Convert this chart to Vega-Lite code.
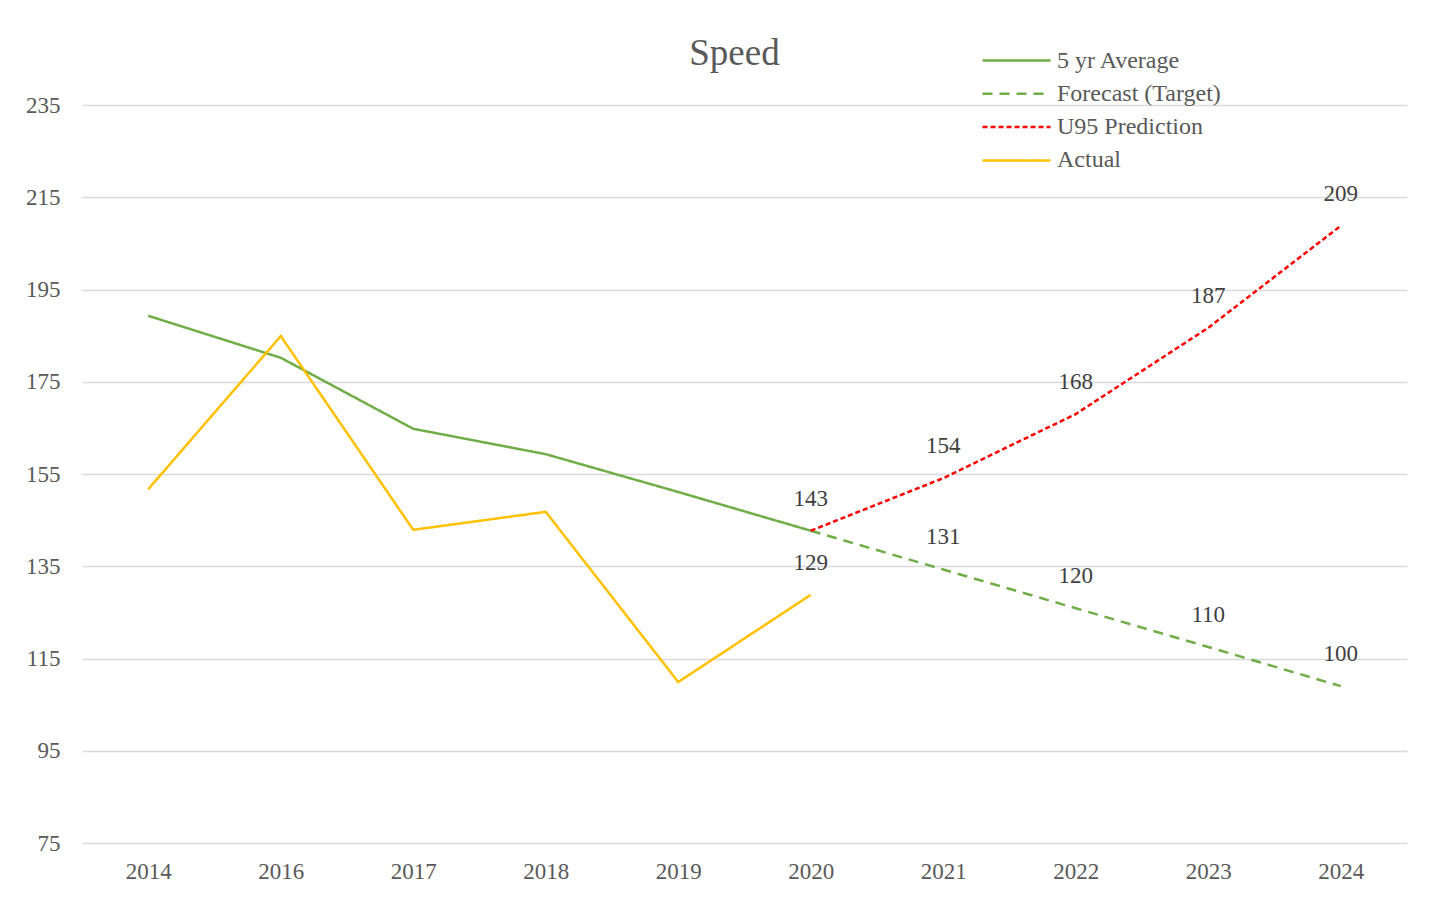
{
  "$schema": "https://vega.github.io/schema/vega-lite/v6.json",
  "width": 1325,
  "height": 738,
  "autosize": {"type": "none"},
  "padding": {"left": 82, "top": 105, "right": 31, "bottom": 54},
  "background": "white",
  "title": {
    "text": "Speed",
    "font": "Liberation Serif",
    "fontSize": 37,
    "fontWeight": "normal",
    "color": "#595959",
    "anchor": "middle",
    "baseline": "alphabetic",
    "offset": -60,
    "dx": -10
  },
  "config": {
    "view": {"stroke": null},
    "font": "Liberation Serif"
  },
  "data": {
    "values": [
      {"year": "2014", "series": "5 yr Average", "value": 189.3, "label": null},
      {"year": "2016", "series": "5 yr Average", "value": 180.2, "label": null},
      {"year": "2017", "series": "5 yr Average", "value": 164.8, "label": null},
      {"year": "2018", "series": "5 yr Average", "value": 159.3, "label": null},
      {"year": "2019", "series": "5 yr Average", "value": 151.1, "label": null},
      {"year": "2020", "series": "5 yr Average", "value": 142.7, "label": "143"},
      {"year": "2020", "series": "Forecast (Target)", "value": 142.7, "label": null},
      {"year": "2021", "series": "Forecast (Target)", "value": 134.3, "label": "131"},
      {"year": "2022", "series": "Forecast (Target)", "value": 125.9, "label": "120"},
      {"year": "2023", "series": "Forecast (Target)", "value": 117.5, "label": "110"},
      {"year": "2024", "series": "Forecast (Target)", "value": 109.0, "label": "100"},
      {"year": "2020", "series": "U95 Prediction", "value": 142.7, "label": null},
      {"year": "2021", "series": "U95 Prediction", "value": 154.1, "label": "154"},
      {"year": "2022", "series": "U95 Prediction", "value": 168.0, "label": "168"},
      {"year": "2023", "series": "U95 Prediction", "value": 186.7, "label": "187"},
      {"year": "2024", "series": "U95 Prediction", "value": 208.8, "label": "209"},
      {"year": "2014", "series": "Actual", "value": 151.7, "label": null},
      {"year": "2016", "series": "Actual", "value": 184.9, "label": null},
      {"year": "2017", "series": "Actual", "value": 142.9, "label": null},
      {"year": "2018", "series": "Actual", "value": 146.8, "label": null},
      {"year": "2019", "series": "Actual", "value": 109.9, "label": null},
      {"year": "2020", "series": "Actual", "value": 128.8, "label": "129"}
    ]
  },
  "encoding": {
    "x": {
      "field": "year",
      "type": "ordinal",
      "sort": ["2014", "2016", "2017", "2018", "2019", "2020", "2021", "2022", "2023", "2024"],
      "scale": {"type": "point", "padding": 0.5},
      "axis": {
        "title": null,
        "labelAngle": 0,
        "domain": false,
        "ticks": false,
        "grid": false,
        "labelFont": "Liberation Serif",
        "labelFontSize": 23,
        "labelColor": "#595959",
        "labelPadding": 17
      }
    },
    "y": {
      "field": "value",
      "type": "quantitative",
      "scale": {"domain": [75, 235], "nice": false, "zero": false},
      "axis": {
        "title": null,
        "values": [75, 95, 115, 135, 155, 175, 195, 215, 235],
        "domain": false,
        "ticks": false,
        "grid": true,
        "gridColor": "#D9D9D9",
        "gridWidth": 1.5,
        "labelFont": "Liberation Serif",
        "labelFontSize": 23,
        "labelColor": "#595959",
        "labelPadding": 22
      }
    }
  },
  "layer": [
    {
      "mark": {"type": "line", "strokeWidth": 2.5},
      "encoding": {
        "color": {
          "field": "series",
          "type": "nominal",
          "scale": {
            "domain": ["5 yr Average", "Forecast (Target)", "U95 Prediction", "Actual"],
            "range": ["#70AD47", "#70AD47", "#FF0000", "#FFC000"]
          },
          "legend": {
            "title": null,
            "orient": "none",
            "legendX": 899,
            "legendY": -63,
            "symbolType": "M-1,0H3",
            "symbolSize": 1156,
            "symbolStrokeWidth": 2.5,
            "symbolFillColor": "transparent",
            "labelFont": "Liberation Serif",
            "labelFontSize": 24,
            "labelColor": "#595959",
            "labelOffset": 39,
            "labelLimit": 400,
            "rowPadding": 2.3,
            "padding": 0
          }
        },
        "strokeDash": {
          "field": "series",
          "type": "nominal",
          "scale": {
            "domain": ["5 yr Average", "Forecast (Target)", "U95 Prediction", "Actual"],
            "range": [[1, 0], [10, 7], [5, 3], [1, 0]]
          },
          "legend": {
            "title": null,
            "orient": "none",
            "legendX": 899,
            "legendY": -63,
            "symbolType": "M-1,0H3",
            "symbolSize": 1156,
            "symbolStrokeWidth": 2.5,
            "symbolFillColor": "transparent",
            "labelFont": "Liberation Serif",
            "labelFontSize": 24,
            "labelColor": "#595959",
            "labelOffset": 39,
            "labelLimit": 400,
            "rowPadding": 2.3,
            "padding": 0
          }
        }
      }
    },
    {
      "transform": [{"filter": "datum.label != null"}],
      "mark": {
        "type": "text",
        "dy": -32,
        "font": "Liberation Serif",
        "fontSize": 23,
        "color": "#404040",
        "align": "center",
        "baseline": "middle"
      },
      "encoding": {
        "text": {"field": "label", "type": "nominal"}
      }
    }
  ]
}
